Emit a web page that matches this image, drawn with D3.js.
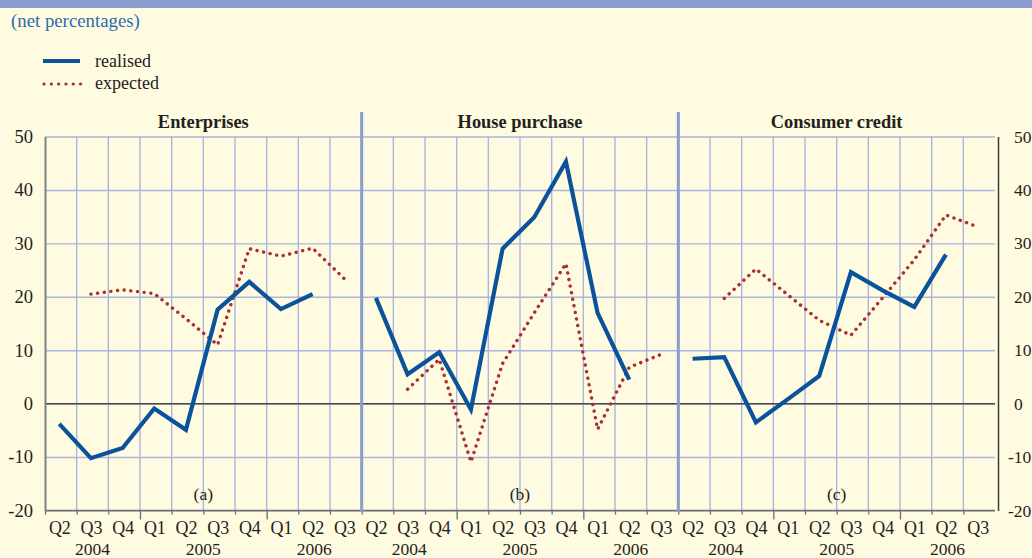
<!DOCTYPE html>
<html><head><meta charset="utf-8">
<script src="https://cdn.jsdelivr.net/npm/d3@7"></script>
<style>
html,body{margin:0;padding:0;background:#fffbe1;}
svg{display:block;}
text{font-family:"Liberation Serif","Times New Roman",serif;fill:#231f20;}
</style></head>
<body>
<svg id="chart" width="1032" height="558"></svg>
<script>
// ---- data ----
const quarters = ["Q2","Q3","Q4","Q1","Q2","Q3","Q4","Q1","Q2","Q3"];
const years = ["2004","2005","2006"];
const yearStart = [0, 3, 7];
const yearEnd = [2, 6, 9];
const panelTitles = ["Enterprises","House purchase","Consumer credit"];
const panelTags = ["(a)","(b)","(c)"];
const yTicks = [-20,-10,0,10,20,30,40,50];
const legendLabels = ["realised","expected"];

const enterprisesRealised = [-3.8, -10.2, -8.3, -0.9, -4.9, 17.6, 22.8, 17.7, 20.5, null];
const enterprisesExpected = [null, 20.5, 21.3, 20.6, 15.9, 11.0, 29.0, 27.6, 29.1, 23.4];
const houseRealised = [19.8, 5.5, 9.6, -1.1, 29.0, 34.9, 45.3, 17.0, 4.5, null];
const houseExpected = [null, 2.7, 8.3, -10.9, 7.5, 17.0, 26.2, -4.8, 6.8, 9.2];
const consumerRealised = [8.4, 8.7, -3.5, 0.8, 5.2, 24.6, 21.2, 18.1, 27.9, null];
const consumerExpected = [null, 19.7, 25.2, 20.4, 15.6, 12.8, 19.8, 26.9, 35.3, 33.1];

const realisedSeries = [enterprisesRealised, houseRealised, consumerRealised];
const expectedSeries = [enterprisesExpected, houseExpected, consumerExpected];

(function () {
// ---- layout ----
const svg = d3.select("#chart");
const W = 1032, H = 558;
const pLeft = 45, pRight = 995, pTop = 136.5, pBottom = 510.5;
const panelW = (pRight - pLeft) / 3;
const blue = "#0a529c", red = "#a8302e", grid = "#aab6e2", sep = "#8a9bd2";
const FS = 18;

svg.append("rect").attr("width", W).attr("height", H).attr("fill", "#fffbe1");
svg.append("rect").attr("width", W).attr("height", 8).attr("fill", "#8b9dd1");

svg.append("text").attr("x", 11).attr("y", 27).attr("font-size", 18.8)
  .style("fill", "#2b6bb2").text("(net percentages)");

// legend
const lg = svg.append("g");
lg.append("line").attr("x1", 43).attr("x2", 80).attr("y1", 61).attr("y2", 61)
  .attr("stroke", blue).attr("stroke-width", 4);
lg.append("line").attr("x1", 44).attr("x2", 81).attr("y1", 84).attr("y2", 84)
  .attr("stroke", red).attr("stroke-width", 3.2).attr("stroke-linecap", "round")
  .attr("stroke-dasharray", "0.1 7.2");
lg.append("text").attr("x", 95).attr("y", 67).attr("font-size", FS).text(legendLabels[0]);
lg.append("text").attr("x", 95).attr("y", 89).attr("font-size", FS).text(legendLabels[1]);

const y = d3.scaleLinear().domain([-20, 50]).range([pBottom, pTop]);
const fmt = d => String(d);

// horizontal grid
const gGrid = svg.append("g").attr("transform", `translate(${pLeft},0)`)
  .call(d3.axisLeft(y).tickValues(yTicks).tickSize(-(pRight - pLeft)).tickFormat(""));
gGrid.select(".domain").remove();
gGrid.selectAll(".tick line").attr("stroke", grid).attr("stroke-width", 1.4);

// panels
for (let p = 0; p < 3; p++) {
  const x0 = pLeft + p * panelW;
  const x = d3.scaleLinear().domain([0, 10]).range([x0, x0 + panelW]);
  const g = svg.append("g");
  g.selectAll("line.vg").data(d3.range(1, 10)).join("line")
    .attr("x1", d => x(d)).attr("x2", d => x(d))
    .attr("y1", pTop).attr("y2", pBottom)
    .attr("stroke", grid).attr("stroke-width", 1.4);
  g.append("text").attr("x", x(5)).attr("y", 127.5).attr("text-anchor", "middle")
    .attr("font-size", 18.4).attr("font-weight", "bold").text(panelTitles[p]);
  g.append("text").attr("x", x(5)).attr("y", 500).attr("text-anchor", "middle")
    .attr("font-size", 17.5).text(panelTags[p]);
  const xa = g.append("g").attr("transform", `translate(0,${pBottom})`)
    .call(d3.axisBottom(x).tickValues(d3.range(0, 10)).tickSize(4).tickFormat(""));
  xa.select(".domain").attr("stroke", "#6d6d6d").attr("stroke-width", 1.5).attr("d", `M${x(0)},0H${x(10)}`);
  xa.selectAll(".tick line").attr("stroke", "#6d6d6d").attr("stroke-width", 1.3)
    .attr("y2", d => (d === 3 || d === 7) ? 9 : 4);
  g.selectAll("text.q").data(quarters).join("text")
    .attr("x", (d, i) => x(i + 0.47)).attr("y", 534).attr("text-anchor", "middle")
    .attr("font-size", FS).text(d => d);
  g.selectAll("text.yr").data(years).join("text")
    .attr("x", (d, i) => x((yearStart[i] + yearEnd[i] + 1) / 2)).attr("y", 555)
    .attr("text-anchor", "middle").attr("font-size", 17.5).text(d => d);
}

svg.append("line").attr("x1", pLeft).attr("x2", pRight).attr("y1", y(0)).attr("y2", y(0))
  .attr("stroke", "#4a4a4a").attr("stroke-width", 1.5);

[1, 2].forEach(k => {
  svg.append("line").attr("x1", pLeft + k * panelW).attr("x2", pLeft + k * panelW)
    .attr("y1", 112).attr("y2", pBottom + 1)
    .attr("stroke", sep).attr("stroke-width", 3);
});

const la = svg.append("g").attr("transform", `translate(${pLeft},0)`)
  .call(d3.axisLeft(y).tickValues(yTicks).tickSize(0).tickPadding(12).tickFormat(fmt));
la.select(".domain").attr("stroke", "#808080").attr("stroke-width", 2);
la.selectAll(".tick text").attr("font-size", 18.5)
  .style("font-family", '"Liberation Serif",serif').style("fill", "#231f20");

const ra = svg.append("g").attr("transform", `translate(${pRight + 3},0)`)
  .call(d3.axisRight(y).tickValues(yTicks).tickSize(0).tickPadding(16).tickFormat(fmt));
ra.select(".domain").attr("stroke", "#3a3a3a").attr("stroke-width", 1.5);
ra.selectAll(".tick text").attr("font-size", 17.5)
  .attr("dx", d => d < 0 ? -6 : 0)
  .style("font-family", '"Liberation Serif",serif').style("fill", "#231f20");

for (let p = 0; p < 3; p++) {
  const x0 = pLeft + p * panelW;
  const x = d3.scaleLinear().domain([0, 10]).range([x0, x0 + panelW]);
  const line = d3.line().defined(d => d != null)
    .x((d, i) => x(i + 0.45)).y(d => y(d));
  svg.append("path").datum(expectedSeries[p]).attr("d", line)
    .attr("fill", "none").attr("stroke", red).attr("stroke-width", 3.4)
    .attr("stroke-linecap", "round").attr("stroke-dasharray", "0.1 6.6");
  svg.append("path").datum(realisedSeries[p]).attr("d", line)
    .attr("fill", "none").attr("stroke", blue).attr("stroke-width", 4.2)
    .attr("stroke-linejoin", "miter");
}
})();
</script>
</body></html>
